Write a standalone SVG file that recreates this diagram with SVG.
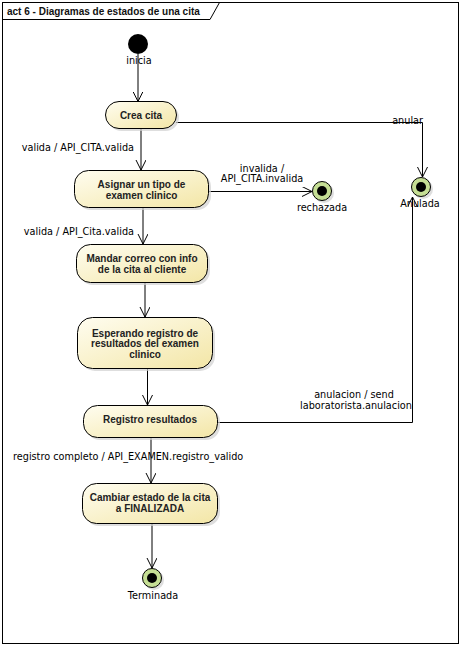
<svg xmlns="http://www.w3.org/2000/svg" width="461" height="646" viewBox="0 0 461 646">
<style>
.frame{fill:none;stroke:#000;stroke-width:1}
.node{fill:url(#g);stroke:#000;stroke-width:1}
.sh{fill:#d0d0d0;opacity:0.7}
.nt{font-family:"Liberation Sans",Arial,sans-serif;font-weight:bold;font-size:10px;fill:#222;text-anchor:middle}
.lb{font-family:"DejaVu Sans",Verdana,sans-serif;font-size:9.7px;fill:#000}
.title{font-family:"Liberation Sans",Arial,sans-serif;font-weight:bold;font-size:10px;fill:#111}
.c{fill:none;stroke:#000;stroke-width:1}
.fin{fill:#c5de94;stroke:#000;stroke-width:1}
</style>
<defs>
<linearGradient id="g" x1="0" y1="0" x2="1" y2="1">
<stop offset="0" stop-color="#fffdf0"/>
<stop offset="1" stop-color="#f3e6a6"/>
</linearGradient>
<marker id="a" markerWidth="12" markerHeight="12" refX="10" refY="5" orient="auto" markerUnits="userSpaceOnUse">
<path d="M0,0 L10,5 L0,10" fill="none" stroke="#000" stroke-width="1"/>
</marker>
</defs>
<rect x="0" y="0" width="461" height="646" fill="#fff"/>
<g id="frame">
<rect class="frame" x="2.5" y="2.5" width="456" height="641"/>
<path class="frame" d="M2.5,19.5 H210 L219.5,2.5"/>
<text class="title" x="7" y="15">act 6 - Diagramas de estados de una cita</text>
</g>
<g id="connectors">
<line class="c" x1="138" y1="54" x2="138" y2="101.5" marker-end="url(#a)"/>
<line class="c" x1="141" y1="129" x2="141" y2="170" marker-end="url(#a)"/>
<text class="lb" x="134" y="150.5" text-anchor="end">valida / API_CITA.valida</text>
<line class="c" x1="208" y1="191.5" x2="312" y2="191.5" marker-end="url(#a)"/>
<text class="lb" x="262" y="171.5" text-anchor="middle">invalida /</text>
<text class="lb" x="262" y="182" text-anchor="middle">API_CITA.invalida</text>
<polyline class="c" points="176,122.5 422.5,122.5 422.5,177" marker-end="url(#a)"/>
<text class="lb" x="423" y="124" text-anchor="end">anular</text>
<line class="c" x1="143" y1="208" x2="143" y2="244" marker-end="url(#a)"/>
<text class="lb" x="134" y="234.5" text-anchor="end">valida / API_Cita.valida</text>
<line class="c" x1="145" y1="283" x2="145" y2="317" marker-end="url(#a)"/>
<line class="c" x1="147.5" y1="369" x2="147.5" y2="405" marker-end="url(#a)"/>
<polyline class="c" points="217,422.5 412.5,422.5 412.5,197" marker-end="url(#a)"/>
<text class="lb" x="354" y="398" text-anchor="middle">anulacion / send</text>
<text class="lb" x="356" y="408.5" text-anchor="middle">laboratorista.anulacion</text>
<line class="c" x1="151" y1="438" x2="151" y2="483" marker-end="url(#a)"/>
<text class="lb" x="13" y="460" text-anchor="start">registro completo / API_EXAMEN.registro_valido</text>
<line class="c" x1="152" y1="524" x2="152" y2="568" marker-end="url(#a)"/>
</g>
<g id="inicia">
<circle cx="138" cy="44" r="10" fill="#000"/>
<text class="lb" x="139" y="64" text-anchor="middle">inicia</text>
</g>
<g id="crea">
<rect class="sh" x="108" y="104" width="71" height="27" rx="13.5"/>
<rect class="node" x="105.5" y="101.5" width="71" height="27" rx="13.5"/>
<text class="nt" x="141" y="118.5">Crea cita</text>
</g>
<g id="asignar">
<rect class="sh" x="77" y="173" width="134" height="37" rx="14"/>
<rect class="node" x="74.5" y="170.5" width="134" height="37" rx="14"/>
<text class="nt" x="141.5" y="187.5">Asignar un tipo de</text>
<text class="nt" x="141.5" y="198.5">examen clinico</text>
</g>
<g id="mandar">
<rect class="sh" x="79" y="247" width="131" height="38" rx="14"/>
<rect class="node" x="76.5" y="244.5" width="131" height="38" rx="14"/>
<text class="nt" x="142" y="261.5">Mandar correo con info</text>
<text class="nt" x="142" y="272.5">de la cita al cliente</text>
</g>
<g id="esperando">
<rect class="sh" x="80" y="320" width="135" height="51" rx="15"/>
<rect class="node" x="77.5" y="317.5" width="135" height="51" rx="15"/>
<text class="nt" x="145" y="336.5">Esperando registro de</text>
<text class="nt" x="145" y="347">resultados del examen</text>
<text class="nt" x="145" y="357.5">clinico</text>
</g>
<g id="registro">
<rect class="sh" x="86" y="408" width="134" height="32" rx="14"/>
<rect class="node" x="83.5" y="405.5" width="134" height="32" rx="14"/>
<text class="nt" x="150" y="422.5">Registro resultados</text>
</g>
<g id="cambiar">
<rect class="sh" x="85" y="486" width="135" height="40" rx="14"/>
<rect class="node" x="82.5" y="483.5" width="135" height="40" rx="14"/>
<text class="nt" x="150" y="500.5">Cambiar estado de la cita</text>
<text class="nt" x="150" y="511.5">a FINALIZADA</text>
</g>
<g id="rechazada">
<circle cx="324" cy="193" r="10" fill="#d0d0d0" opacity="0.7"/>
<circle class="fin" cx="322" cy="191" r="9.5"/>
<circle cx="322" cy="191" r="5" fill="#000"/>
<text class="lb" x="322" y="210.5" text-anchor="middle">rechazada</text>
</g>
<g id="anulada">
<circle cx="423" cy="189" r="10" fill="#d0d0d0" opacity="0.7"/>
<circle class="fin" cx="421" cy="187" r="9.5"/>
<circle cx="421" cy="187" r="5" fill="#000"/>
<text class="lb" x="420" y="206.5" text-anchor="middle">Anulada</text>
</g>
<g id="terminada">
<circle cx="154" cy="580" r="10" fill="#d0d0d0" opacity="0.7"/>
<circle class="fin" cx="152" cy="578" r="9.5"/>
<circle cx="152" cy="578" r="5" fill="#000"/>
<text class="lb" x="153" y="599" text-anchor="middle">Terminada</text>
</g>
</svg>
